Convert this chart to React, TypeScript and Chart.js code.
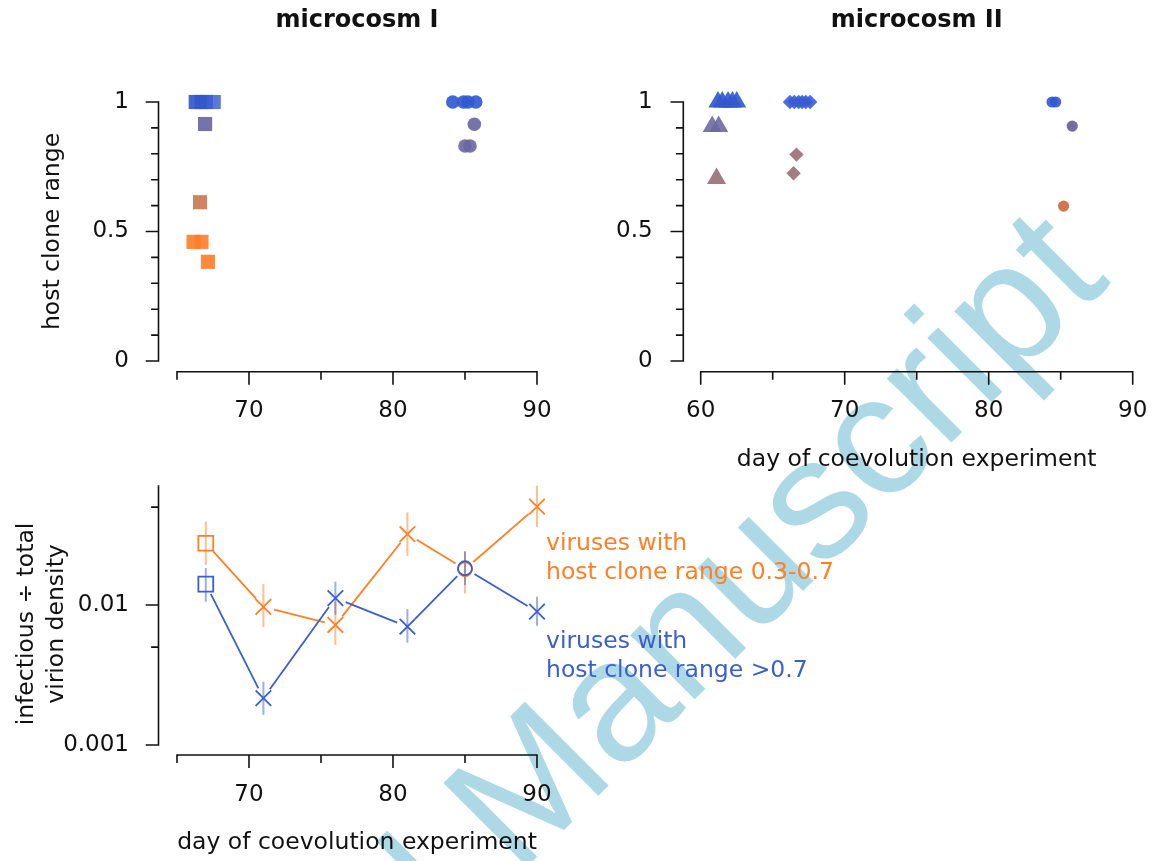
import React, { useEffect, useRef } from "react";
import { Chart, registerables } from "chart.js";

Chart.register(...registerables);

const W = 1157;
const H = 861;
const FONT = '"DejaVu Sans", Verdana, sans-serif';
const INK = "#111111";
const BLUE = "rgb(58,95,205)";
const ORANGE = "rgb(255,127,36)";
const BLUE_LIGHT = "rgba(58,95,205,0.5)";
const ORANGE_LIGHT = "rgba(255,127,36,0.5)";

Chart.defaults.font.family = FONT;

// ---------------- microcosm I (host clone range of virus isolates) ----------------
const mc1SquareDays = [66.3, 66.7, 67.0, 67.55, 66.95, 66.6, 66.15, 66.7, 67.15];
const mc1SquareRange = [1, 1, 1, 1, 0.915, 0.613, 0.46, 0.46, 0.383];
const mc1SquareColors = [
  "rgba(52,88,204,0.92)", "rgba(52,88,204,0.92)", "rgba(52,88,204,0.92)", "rgba(60,96,210,0.85)",
  "rgba(112,106,165,0.95)", "rgba(206,124,88,0.95)",
  "rgba(255,125,40,0.9)", "rgba(255,125,40,0.9)", "rgba(255,128,44,0.92)",
];
const mc1CircleDays = [84.15, 84.9, 85.2, 85.75, 85.65, 85.0, 85.35];
const mc1CircleRange = [1, 1, 1, 1, 0.914, 0.83, 0.83];
const mc1CircleColors = [
  "rgba(52,90,210,0.92)", "rgba(52,90,210,0.92)", "rgba(52,90,210,0.92)", "rgba(52,90,210,0.92)",
  "rgba(112,106,165,0.95)", "rgba(108,102,163,0.9)", "rgba(108,102,163,0.9)",
];

// ---------------- microcosm II ----------------
const mc2TriangleDays = [61.2, 61.5, 61.9, 62.2, 62.5, 60.8, 61.25, 61.1];
const mc2TriangleRange = [1, 1, 1, 1, 1, 0.905, 0.905, 0.705];
const mc2TriangleColors = [
  "rgba(52,88,206,0.92)", "rgba(52,88,206,0.92)", "rgba(52,88,206,0.92)", "rgba(52,88,206,0.92)", "rgba(52,88,206,0.92)",
  "rgba(110,104,164,0.9)", "rgba(110,104,164,0.9)", "rgba(158,116,124,0.95)",
];
const mc2DiamondDays = [66.2, 66.5, 66.8, 67.05, 67.3, 67.6, 66.65, 66.45];
const mc2DiamondRange = [1, 1, 1, 1, 1, 1, 0.797, 0.725];
const mc2DiamondColors = [
  "rgba(56,92,214,0.9)", "rgba(56,92,214,0.9)", "rgba(56,92,214,0.9)", "rgba(56,92,214,0.9)", "rgba(56,92,214,0.9)", "rgba(56,92,214,0.9)",
  "rgba(158,116,124,0.95)", "rgba(158,116,124,0.95)",
];
const mc2CircleDays = [84.4, 84.65, 85.8, 85.2];
const mc2CircleRange = [1, 1, 0.907, 0.598];
const mc2CircleColors = [
  "rgba(52,90,210,0.92)", "rgba(52,90,210,0.92)", "rgba(108,100,160,0.95)", "rgba(204,112,68,0.95)",
];

// ---------------- infectious / total virion density ----------------
const sampleDays = [67, 71, 76, 81, 85, 90];
const midRangeRatio = [0.0276, 0.0097, 0.0072, 0.0321, 0.018, 0.0504];
const midRangeLow = [0.0193, 0.00697, 0.00518, 0.0224, 0.0121, 0.0362];
const midRangeHigh = [0.0394, 0.0141, 0.01056, 0.0459, 0.024, 0.0711];
const broadRangeRatio = [0.0141, 0.00216, 0.0112, 0.007, 0.0183, 0.00896];
const broadRangeLow = [0.01056, 0.00164, 0.0085, 0.00538, 0.0139, 0.00711];
const broadRangeHigh = [0.01837, 0.00283, 0.01467, 0.00936, 0.0242, 0.01146];

// ---------------- ticks ----------------
const rangeTicks = [0, 0.1, 0.2, 0.3, 0.4, 0.5, 0.6, 0.7, 0.8, 0.9, 1];
const rangeTickLabels = ["0", "", "", "", "", "0.5", "", "", "", "", "1"];
const mc1DayTicks = [65, 70, 75, 80, 85, 90];
const mc2DayTicks = [60, 65, 70, 75, 80, 85, 90];
const dayTickLabels = [60, 70, 80, 90];
const ratioTicks = [0.001, 0.005, 0.01, 0.05];
const ratioTickLabels = ["0.001", "", "0.01", ""];

// styles (not data)
const sampleMarkers = ["rect", "crossRot", "crossRot", "crossRot", "circle", "crossRot"];
const sampleMarkerSizes = [10.5, 11, 11, 11, 7, 11];

// ---------------- plugins ----------------
function detachedAxes(yGap: number, xGap: number) {
  return {
    id: "detachedAxes",
    afterDraw(chart: any) {
      const { ctx, chartArea: a } = chart;
      const xs = chart.scales.x;
      const ys = chart.scales.y;
      ctx.save();
      ctx.strokeStyle = INK;
      ctx.lineWidth = 1.6;
      ctx.lineCap = "square";
      ctx.beginPath();
      const ax = a.left - yGap;
      ctx.moveTo(ax, a.top);
      ctx.lineTo(ax, a.bottom);
      ys.ticks.forEach((t: any) => {
        const p = ys.getPixelForValue(t.value);
        const len = t.label ? 12 : 6.6;
        ctx.moveTo(ax - len, p);
        ctx.lineTo(ax, p);
      });
      const ay = a.bottom + xGap;
      ctx.moveTo(a.left, ay);
      ctx.lineTo(a.right, ay);
      xs.ticks.forEach((t: any) => {
        const p = xs.getPixelForValue(t.value);
        const len = t.label ? 12.3 : 7.3;
        ctx.moveTo(p, ay);
        ctx.lineTo(p, ay + len);
      });
      ctx.stroke();
      ctx.restore();
    },
  };
}

type TextItem = {
  text: string;
  pos: (a: any) => [number, number];
  font: string;
  color?: string;
  align?: CanvasTextAlign;
  rotate?: number;
};

function panelText(items: TextItem[]) {
  return {
    id: "panelText",
    afterDraw(chart: any) {
      const { ctx, chartArea: a } = chart;
      items.forEach((it) => {
        const [x, y] = it.pos(a);
        ctx.save();
        ctx.translate(x, y);
        if (it.rotate) ctx.rotate(it.rotate);
        ctx.font = it.font;
        ctx.fillStyle = it.color || INK;
        ctx.textAlign = it.align || "center";
        ctx.textBaseline = "alphabetic";
        ctx.fillText(it.text, 0, 0);
        ctx.restore();
      });
    },
  };
}

function seriesDecor() {
  const series = [
    { vals: midRangeRatio, low: midRangeLow, high: midRangeHigh, color: ORANGE, light: ORANGE_LIGHT },
    { vals: broadRangeRatio, low: broadRangeLow, high: broadRangeHigh, color: BLUE, light: BLUE_LIGHT },
  ];
  const gap = 11;
  return {
    id: "seriesDecor",
    beforeDatasetsDraw(chart: any) {
      const { ctx } = chart;
      const xs = chart.scales.x;
      const ys = chart.scales.y;
      ctx.save();
      series.forEach((s) => {
        ctx.strokeStyle = s.light;
        ctx.lineWidth = 2;
        sampleDays.forEach((d, i) => {
          const px = xs.getPixelForValue(d);
          ctx.beginPath();
          ctx.moveTo(px, ys.getPixelForValue(s.low[i]));
          ctx.lineTo(px, ys.getPixelForValue(s.high[i]));
          ctx.stroke();
        });
        ctx.strokeStyle = s.color;
        ctx.lineWidth = 1.8;
        ctx.beginPath();
        for (let i = 0; i < sampleDays.length - 1; i++) {
          const x0 = xs.getPixelForValue(sampleDays[i]);
          const y0 = ys.getPixelForValue(s.vals[i]);
          const x1 = xs.getPixelForValue(sampleDays[i + 1]);
          const y1 = ys.getPixelForValue(s.vals[i + 1]);
          const dx = x1 - x0;
          const dy = y1 - y0;
          const len = Math.hypot(dx, dy);
          if (len <= 2 * gap) continue;
          const ux = dx / len;
          const uy = dy / len;
          ctx.moveTo(x0 + ux * gap, y0 + uy * gap);
          ctx.lineTo(x1 - ux * gap, y1 - uy * gap);
        }
        ctx.stroke();
      });
      ctx.restore();
    },
  };
}

// ---------------- scales ----------------
const tickFont = { size: 23, family: FONT };
const Y_BOX = 150;
const X_BOX = 80;

function dayScale(min: number, max: number, ticks: number[]) {
  return {
    type: "linear",
    min,
    max,
    afterBuildTicks: (s: any) => {
      s.ticks = ticks.map((v) => ({ value: v }));
    },
    afterFit: (s: any) => {
      s.height = X_BOX;
    },
    grid: { display: false, drawTicks: false },
    border: { display: false },
    ticks: {
      autoSkip: false,
      maxRotation: 0,
      minRotation: 0,
      padding: 36,
      font: tickFont,
      color: INK,
      callback: (v: number) => (dayTickLabels.includes(v) ? String(v) : ""),
    },
  };
}

function rangeScale() {
  return {
    type: "linear",
    min: 0,
    max: 1,
    afterBuildTicks: (s: any) => {
      s.ticks = rangeTicks.map((v) => ({ value: v }));
    },
    afterFit: (s: any) => {
      s.width = Y_BOX;
    },
    grid: { display: false, drawTicks: false },
    border: { display: false },
    ticks: {
      autoSkip: false,
      padding: 48,
      font: tickFont,
      color: INK,
      callback: (_v: number, i: number) => rangeTickLabels[i],
    },
  };
}

function ratioScale() {
  return {
    type: "logarithmic",
    min: 0.001,
    max: 0.0708,
    afterBuildTicks: (s: any) => {
      s.ticks = ratioTicks.map((v) => ({ value: v }));
    },
    afterFit: (s: any) => {
      s.width = Y_BOX;
    },
    grid: { display: false, drawTicks: false },
    border: { display: false },
    ticks: {
      autoSkip: false,
      padding: 48,
      font: tickFont,
      color: INK,
      callback: (_v: number, i: number) => ratioTickLabels[i],
    },
  };
}

function baseOptions(padding: any, scales: any) {
  return {
    responsive: false,
    maintainAspectRatio: false,
    animation: false,
    devicePixelRatio: 1,
    events: [],
    layout: { padding, autoPadding: false },
    scales,
    plugins: {
      legend: { display: false },
      tooltip: { enabled: false },
      title: { display: false },
    },
  };
}

function scatterSet(xs: number[], ys: number[], colors: string[], style: string, radius: number) {
  return {
    type: "scatter",
    data: xs.map((x, i) => ({ x, y: ys[i] })),
    pointStyle: style,
    pointRadius: radius,
    pointBackgroundColor: colors,
    pointBorderWidth: 0,
    pointBorderColor: "rgba(0,0,0,0)",
    showLine: false,
    clip: false,
  };
}

const titleFont = `bold 24px ${FONT}`;
const labelFont = `23.5px ${FONT}`;

// plot areas (pixels on the page): left 177..537 / 700.7..1132.7, top rows 102..361, bottom 486..745
const MC2_CANVAS_W = 1220;

function buildMc1() {
  return {
    type: "scatter",
    data: {
      datasets: [
        scatterSet(mc1SquareDays, mc1SquareRange, mc1SquareColors, "rect", 10),
        scatterSet(mc1CircleDays, mc1CircleRange, mc1CircleColors, "circle", 6.8),
      ],
    },
    options: baseOptions(
      { left: 177 - Y_BOX, right: W - 537, top: 102, bottom: H - 361 - X_BOX },
      { x: dayScale(65, 90, mc1DayTicks), y: rangeScale() }
    ),
    plugins: [
      detachedAxes(18.5, 10.7),
      panelText([
        { text: "microcosm I", pos: (a) => [(a.left + a.right) / 2, a.top - 75.3], font: titleFont },
        { text: "host clone range", pos: (a) => [a.left - 118, (a.top + a.bottom) / 2], font: labelFont, rotate: -Math.PI / 2 },
      ]),
    ],
  };
}

function buildMc2() {
  return {
    type: "scatter",
    data: {
      datasets: [
        scatterSet(mc2TriangleDays, mc2TriangleRange, mc2TriangleColors, "triangle", 11),
        scatterSet(mc2DiamondDays, mc2DiamondRange, mc2DiamondColors, "rectRot", 7.2),
        scatterSet(mc2CircleDays, mc2CircleRange, mc2CircleColors, "circle", 5.6),
      ],
    },
    options: baseOptions(
      { left: 700.7 - Y_BOX, right: MC2_CANVAS_W - 1132.7, top: 102, bottom: H - 361 - X_BOX },
      { x: dayScale(60, 90, mc2DayTicks), y: rangeScale() }
    ),
    plugins: [
      detachedAxes(17.4, 10.7),
      panelText([
        { text: "microcosm II", pos: (a) => [(a.left + a.right) / 2, a.top - 75.3], font: titleFont },
        { text: "day of coevolution experiment", pos: (a) => [(a.left + a.right) / 2, a.bottom + 105], font: labelFont },
      ]),
    ],
  };
}

function buildRatio() {
  const mk = (vals: number[], color: string) => ({
    type: "scatter",
    data: sampleDays.map((x, i) => ({ x, y: vals[i] })),
    pointStyle: sampleMarkers,
    pointRadius: sampleMarkerSizes,
    pointBackgroundColor: "rgba(0,0,0,0)",
    pointBorderColor: color,
    pointBorderWidth: 1.8,
    showLine: false,
    clip: false,
  });
  return {
    type: "scatter",
    data: { datasets: [mk(broadRangeRatio, BLUE), mk(midRangeRatio, ORANGE)] },
    options: baseOptions(
      { left: 177 - Y_BOX, right: W - 537, top: 486, bottom: H - 745 - X_BOX },
      { x: dayScale(65, 90, mc1DayTicks), y: ratioScale() }
    ),
    plugins: [
      seriesDecor(),
      detachedAxes(18.5, 10),
      panelText([
        { text: "day of coevolution experiment", pos: (a) => [(a.left + a.right) / 2, a.bottom + 104], font: labelFont },
        { text: "infectious \u00F7 total", pos: (a) => [a.left - 144, (a.top + a.bottom) / 2 + 8.5], font: labelFont, rotate: -Math.PI / 2 },
        { text: "virion density", pos: (a) => [a.left - 114, (a.top + a.bottom) / 2 + 8.5], font: labelFont, rotate: -Math.PI / 2 },
        { text: "viruses with", pos: (a) => [a.right + 9, a.top + 64], font: labelFont, color: ORANGE, align: "left" },
        { text: "host clone range 0.3-0.7", pos: (a) => [a.right + 9, a.top + 93], font: labelFont, color: ORANGE, align: "left" },
        { text: "viruses with", pos: (a) => [a.right + 9, a.top + 161.5], font: labelFont, color: BLUE, align: "left" },
        { text: "host clone range >0.7", pos: (a) => [a.right + 9, a.top + 191], font: labelFont, color: BLUE, align: "left" },
      ]),
    ],
  };
}

function ChartCanvas({ build, width }: { build: () => any; width: number }) {
  const ref = useRef<HTMLCanvasElement | null>(null);
  useEffect(() => {
    if (!ref.current) return;
    const chart = new Chart(ref.current, build());
    return () => chart.destroy();
  }, [build]);
  return (
    <canvas
      ref={ref}
      width={width}
      height={H}
      style={{ position: "absolute", left: 0, top: 0, width, height: H, display: "block" }}
    />
  );
}

const watermarkStyle: React.CSSProperties = {
  position: "absolute",
  left: 1112,
  top: 282,
  transform: "rotate(-45deg) translate(-100%, -146px)",
  transformOrigin: "0 0",
  font: '172px "Liberation Sans", Arial, sans-serif',
  lineHeight: 1,
  color: "#ADD8E6",
  whiteSpace: "nowrap",
};

export default function App() {
  return (
    <div style={{ position: "absolute", left: 0, top: 0, width: W, height: H, overflow: "hidden", background: "#ffffff" }}>
      <div style={watermarkStyle}>Accepted Manuscript</div>
      <ChartCanvas build={buildMc1} width={W} />
      <ChartCanvas build={buildMc2} width={MC2_CANVAS_W} />
      <ChartCanvas build={buildRatio} width={W} />
    </div>
  );
}
